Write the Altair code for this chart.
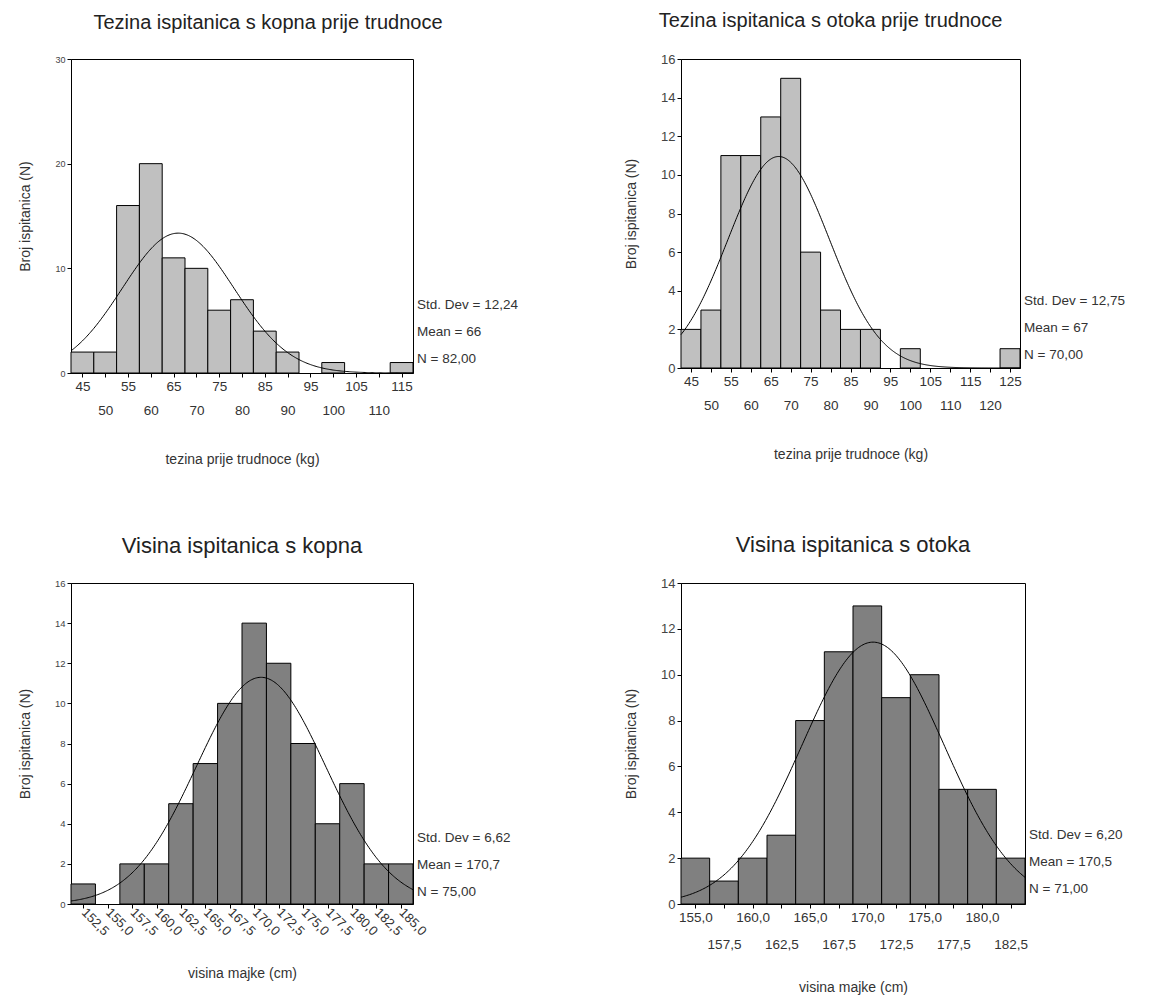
import altair as alt
import pandas as pd

FONT = "Liberation Sans"

# ---------- data ----------
# Top-left: weight before pregnancy, mainland
tl_centers = [45, 50, 55, 60, 65, 70, 75, 80, 85, 90, 95, 100, 105, 110, 115]
tl_counts = [2, 2, 16, 20, 11, 10, 6, 7, 4, 2, 0, 1, 0, 0, 1]
tl_stats = ["Std. Dev = 12,24", "Mean = 66", "N = 82,00"]

# Top-right: weight before pregnancy, island
tr_centers = [45, 50, 55, 60, 65, 70, 75, 80, 85, 90, 95, 100, 105, 110, 115, 120, 125]
tr_counts = [2, 3, 11, 11, 13, 15, 6, 3, 2, 2, 0, 1, 0, 0, 0, 0, 1]
tr_stats = ["Std. Dev = 12,75", "Mean = 67", "N = 70,00"]

# Bottom-left: mother's height, mainland
bl_centers = [152.5, 155.0, 157.5, 160.0, 162.5, 165.0, 167.5, 170.0, 172.5,
              175.0, 177.5, 180.0, 182.5, 185.0]
bl_counts = [1, 0, 2, 2, 5, 7, 10, 14, 12, 8, 4, 6, 2, 2]
bl_stats = ["Std. Dev = 6,62", "Mean = 170,7", "N = 75,00"]

# Bottom-right: mother's height, island
br_centers = [155.0, 157.5, 160.0, 162.5, 165.0, 167.5, 170.0, 172.5, 175.0,
              177.5, 180.0, 182.5]
br_counts = [2, 1, 2, 3, 8, 11, 13, 9, 10, 5, 5, 2]
br_stats = ["Std. Dev = 6,20", "Mean = 170,5", "N = 71,00"]

# normal-fit parameters (as printed on the chart)
fits = {
    "tl": (66.0, 12.24, 82),
    "tr": (67.0, 12.75, 70),
    "bl": (170.7, 6.62, 75),
    "br": (170.5, 6.20, 71),
}

LIGHT = "#c0c0c0"
DARK = "#808080"


def panel(centers, counts, binw, fit, stats, title, xtitle, yticks,
          w, h, fill, ylabsize, xaxis_kw, title_kw, xtitle_pad, stats_y):
    mean, sd, n = fit
    lo = centers[0] - binw / 2
    hi = centers[-1] + binw / 2
    df = pd.DataFrame({"c": centers, "n": counts})
    df["x0"] = df["c"] - binw / 2
    df["x1"] = df["c"] + binw / 2
    df = df[df["n"] > 0]

    xscale = alt.Scale(domain=[lo, hi], nice=False, zero=False)
    yscale = alt.Scale(domain=[yticks[0], yticks[-1]], nice=False)

    def xaxis():
        return alt.Axis(
            values=centers, title=xtitle, grid=False, tickSize=4,
            tickColor="black", domainColor="black", labelColor="#333",
            labelFont=FONT, titleFont=FONT, titleFontSize=14,
            titleFontWeight="normal", titleColor="#333",
            labelOverlap=False, labelFlush=False, labelBound=False,
            labelPadding=2, titlePadding=xtitle_pad, **xaxis_kw)

    def yaxis():
        return alt.Axis(
            values=yticks, title="Broj ispitanica (N)", grid=False,
            tickSize=4, tickColor="black", domainColor="black",
            labelColor="#444", labelFont=FONT, labelFontSize=ylabsize,
            titleFont=FONT, titleFontSize=14, titleFontWeight="normal",
            titleColor="#333", labelOverlap=False, labelFlush=False,
            labelPadding=2, titlePadding=22, format="d")

    bars = alt.Chart(df).mark_rect(
        fill=fill, stroke="black", strokeWidth=1
    ).encode(
        x=alt.X("x0:Q", scale=xscale, axis=xaxis()),
        x2="x1:Q",
        y=alt.Y("n:Q", scale=yscale, axis=yaxis()),
        y2=alt.datum(0),
    )

    curve = alt.Chart(
        alt.sequence(lo, hi + binw / 20, binw / 20, as_="x")
    ).transform_calculate(
        y=f"{n * binw} * densityNormal(datum.x, {mean}, {sd})"
    ).mark_line(color="black", strokeWidth=1).encode(
        x=alt.X("x:Q", scale=xscale, axis=xaxis()),
        y=alt.Y("y:Q", scale=yscale, axis=yaxis()),
    )

    txt = alt.Chart(pd.DataFrame({"k": [0]})).mark_text(
        text=stats, align="left", baseline="middle", lineHeight=27,
        font=FONT, fontSize=13.5, color="#333"
    ).encode(x=alt.value(w + 4), y=alt.value(h - stats_y))

    return alt.layer(bars, curve, txt).properties(
        width=w, height=h,
        title=alt.TitleParams(title, font=FONT, fontWeight="normal",
                              color="#222", anchor="middle", **title_kw),
    )


comma1 = "replace(format(datum.value, '.1f'), '.', ',')"
two_row_int = "(datum.value % 10 == 0) ? ['', datum.label] : datum.label"
two_row_dec = "(datum.value % 5 == 0) ? " + comma1 + " : ['', " + comma1 + "]"

tl = panel(tl_centers, tl_counts, 5, fits["tl"], tl_stats,
           "Tezina ispitanica s kopna prije trudnoce",
           "tezina prije trudnoce (kg)", [0, 10, 20, 30], 342, 314, LIGHT, 9,
           dict(labelExpr=two_row_int, labelFontSize=13.5,
                labelLineHeight=24, labelBaseline="top", format="d"),
           dict(fontSize=20, offset=22, dx=26), 36, 68)

tr = panel(tr_centers, tr_counts, 5, fits["tr"], tr_stats,
           "Tezina ispitanica s otoka prije trudnoce",
           "tezina prije trudnoce (kg)", [0, 2, 4, 6, 8, 10, 12, 14, 16],
           339, 309, LIGHT, 13,
           dict(labelExpr=two_row_int, labelFontSize=13.5,
                labelLineHeight=24, labelBaseline="top", format="d"),
           dict(fontSize=20, offset=22, dx=-20), 36, 67)

bl = panel(bl_centers, bl_counts, 2.5, fits["bl"], bl_stats,
           "Visina ispitanica s kopna", "visina majke (cm)",
           [0, 2, 4, 6, 8, 10, 12, 14, 16], 342, 321, DARK, 9.5,
           dict(labelExpr=comma1, labelFontSize=13, labelAngle=45,
                labelAlign="left", labelBaseline="middle"),
           dict(fontSize=22, offset=20), 29, 66)

br = panel(br_centers, br_counts, 2.5, fits["br"], br_stats,
           "Visina ispitanica s otoka", "visina majke (cm)",
           [0, 2, 4, 6, 8, 10, 12, 14], 344, 321, DARK, 13,
           dict(labelExpr=two_row_dec, labelFontSize=13.5,
                labelLineHeight=27, labelBaseline="top"),
           dict(fontSize=22, offset=20), 30, 69)

chart = alt.concat(
    tl, tr, bl, br, columns=2,
    spacing=alt.RowColnumber(row=203, column=266),
    bounds="flush", align="all",
).properties(
    padding={"left": 9, "top": 2, "right": 5, "bottom": 0},
).configure_view(stroke="black", strokeWidth=1)

chart.save("out.html", embed_options={"renderer": "svg", "actions": False})
